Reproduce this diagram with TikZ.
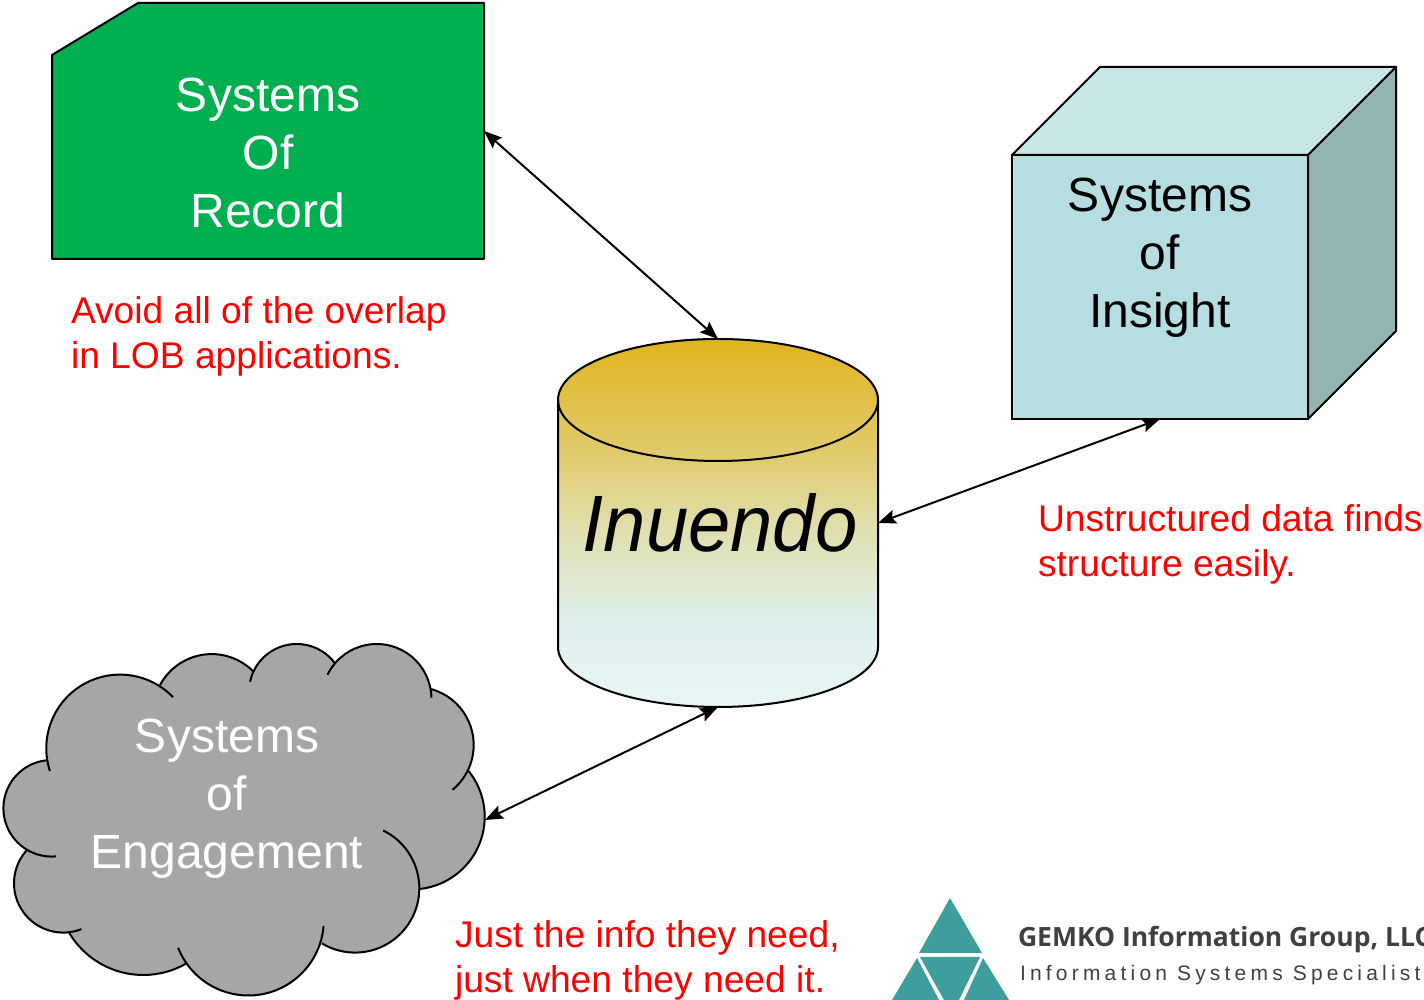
\documentclass[tikz,border=0pt]{standalone}
\usepackage{fontspec}
\setmainfont{Liberation Sans}
\newfontfamily\logohead{Open Sans}
\newfontfamily\logotag[LetterSpace=20]{Liberation Sans}
\usetikzlibrary{arrows.meta}

\definecolor{recordgreen}{HTML}{00B050}
\definecolor{cubefront}{HTML}{B6DEE0}
\definecolor{cubetop}{HTML}{C8E6E6}
\definecolor{cubeside}{HTML}{94B3B3}
\definecolor{cloudgray}{HTML}{A6A6A6}
\definecolor{logoteal}{HTML}{3E9E9E}
\definecolor{logotext}{HTML}{404040}
\definecolor{cylA}{HTML}{E0B41E}
\definecolor{cylB}{HTML}{E0CC70}
\definecolor{cylC}{HTML}{E0DDA8}
\definecolor{cylD}{HTML}{DFEFEC}
\definecolor{cylE}{HTML}{E8F5F7}
\pgfdeclareverticalshading{inuendoshade}{100bp}{color(0bp)=(cylE); color(25bp)=(cylE); color(36.8bp)=(cylD); color(50.3bp)=(cylC); color(58.6bp)=(cylB); color(75bp)=(cylA); color(100bp)=(cylA)}

% lobes of the cloud: centre x / centre y / radius / start angle / end angle
\def\cloudlobes{120/251.7/73.7/198/44, 211.7/287.3/58.6/151.8/44.5, 296.7/308.3/47.7/168/37,
  376.7/301.3/54.7/154/1, 415.7/255/58/74.6/-50.6, 412/183.3/72.7/40.6/-83.6,
  355/111.7/64.3/64/-121, 248.3/80/75.5/-4.5/-158.4, 143.3/111.3/86.3/-59.9/-150.2,
  63.3/116.7/49.3/-68.5/-223.6, 51.7/191.7/48.3/-85/-264}

\begin{document}
\begin{tikzpicture}[x=1pt,y=1pt,line width=2pt,>={Stealth[length=18pt,width=14pt,inset=3pt]}]
    \tikzstyle{bigtext}=[font=\fontsize{48}{58}\selectfont,align=center,inner sep=0pt]
    \tikzstyle{note}=[font=\fontsize{37.2}{45}\selectfont,align=left,text=red,inner sep=0pt,anchor=west]
    \tikzstyle{anchorbox}=[inner sep=0pt,outer sep=0pt]
    \tikzstyle{link}=[<->,line width=2pt]
    \tikzstyle{logopiece}=[fill=logoteal,draw=none]

    \useasboundingbox (0,0) rectangle (1424,1000);

    % Draw the systems of record
    \node[anchorbox,minimum width=432pt,minimum height=256pt] (record) at (268,869) {};
    \draw[fill=recordgreen,line join=round] (52,945) -- (138,997) -- (484,997) -- (484,741) -- (52,741) -- cycle;
    \node[bigtext,text=white] (recordlabel) at (268,847) {Systems\\Of\\Record};

    % Draw the cube
    \draw[fill=cubetop,line join=round] (1012,845) -- (1100,933) -- (1396,933) -- (1308,845) -- cycle;
    \draw[fill=cubeside,line join=round] (1308,845) -- (1396,933) -- (1396,669) -- (1308,581) -- cycle;
    \node[anchorbox,draw=black,fill=cubefront,minimum width=296pt,minimum height=264pt] (insight) at (1160,713) {};
    \node[bigtext] (insightlabel) at (1160,742) {Systems\\of\\Insight};

    % Draw the cylinder
    \node[anchorbox,minimum width=320pt,minimum height=368pt] (inuendo) at (718,477) {};
    \draw[shading=inuendoshade] (558,600) arc[start angle=180,end angle=0,x radius=160,y radius=61]
        -- (878,353) arc[start angle=0,end angle=-180,x radius=160,y radius=60] -- cycle;
    \draw (558,600) arc[start angle=180,end angle=360,x radius=160,y radius=61];
    \node[font=\fontsize{80}{90}\selectfont\itshape,inner sep=0pt,xscale=.95,transform shape] (inuendolabel) at (720,477) {Inuendo};

    % Draw the cloud
    \node[anchorbox,minimum width=482pt,minimum height=354pt] (engagement) at (244,180) {};
    \foreach \cx/\cy/\rad/\sa/\ea in \cloudlobes
        \fill[cloudgray] (\cx,\cy) circle[radius=\rad];
    \fill[cloudgray] (120,251) -- (212,287) -- (297,308) -- (377,301) -- (416,255) -- (412,183)
        -- (355,112) -- (248,80) -- (143,111) -- (63,117) -- (52,192) -- cycle;
    \foreach \cx/\cy/\rad/\sa/\ea in \cloudlobes
        \draw (\cx,\cy) ++(\sa:\rad) arc[start angle=\sa,end angle=\ea,radius=\rad];
    \node[bigtext,text=white] (engagementlabel) at (227,201) {Systems\\of\\Engagement};

    % Connect the three systems with the cylinder
    \draw[link] (record.east) -- (inuendo.north);
    \draw[link] (insight.south) -- (inuendo.east);
    \draw[link] (engagement.east) -- (inuendo.south);

    % Annotate the systems
    \node[note] (recordnote) at (70,664) {Avoid all of the overlap\\in LOB applications.};
    \node[note] (insightnote) at (1037,456) {Unstructured data finds\\structure easily.};
    \node[note] (engagementnote) at (454,40) {Just the info they need,\\just when they need it.};

    % Draw the logo
    \fill[logopiece] (950,102) -- (982,47) -- (919,47) -- cycle;
    \fill[logopiece] (920,43) -- (980,43) -- (959,0) -- (944,0) -- cycle;
    \fill[logopiece] (917,42) -- (939,0) -- (892,0) -- cycle;
    \fill[logopiece] (983,42) -- (1009,0) -- (964,0) -- cycle;
    \node[font=\logohead\bfseries\fontsize{26.5}{30}\selectfont,text=logotext,inner sep=0pt,anchor=base west] (logoname) at (1017,53) {GEMKO Information Group, LLC};
    \node[font=\logotag\fontsize{21}{25}\selectfont,text=logotext,inner sep=0pt,anchor=base west] (logotagline) at (1019,19) {Information Systems Specialist};
\end{tikzpicture}
\end{document}
